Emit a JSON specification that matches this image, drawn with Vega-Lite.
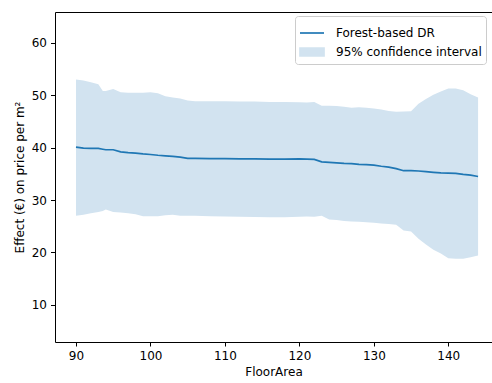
{
  "$schema": "https://vega.github.io/schema/vega-lite/v6.json",
  "width": 437,
  "height": 330,
  "autosize": {"type": "none"},
  "padding": {"left": 55, "top": 12, "right": 0, "bottom": 41},
  "background": "white",
  "config": {
    "font": "DejaVu Sans",
    "view": {"stroke": null},
    "axis": {
      "grid": false,
      "domainColor": "black",
      "domainWidth": 1,
      "tickColor": "black",
      "tickWidth": 1,
      "tickSize": 4,
      "labelFontSize": 12,
      "labelColor": "black",
      "labelFont": "DejaVu Sans",
      "titleFont": "DejaVu Sans",
      "titleFontSize": 12,
      "titleFontWeight": "normal",
      "titleColor": "black"
    },
    "legend": {
      "title": null,
      "orient": "none",
      "legendX": 240,
      "legendY": 4,
      "padding": 4,
      "fillColor": "white",
      "strokeColor": "#cccccc",
      "cornerRadius": 3,
      "labelFontSize": 12,
      "labelFont": "DejaVu Sans",
      "labelColor": "black",
      "labelOffset": 11,
      "symbolSize": 576,
      "rowPadding": 0
    }
  },
  "data": {
    "values": [
      {"FloorArea": 90, "effect": 40.1, "lower": 27.0, "upper": 53.0},
      {"FloorArea": 91, "effect": 39.9, "lower": 27.2, "upper": 52.8},
      {"FloorArea": 92, "effect": 39.86, "lower": 27.5, "upper": 52.5},
      {"FloorArea": 93, "effect": 39.86, "lower": 27.7, "upper": 52.1},
      {"FloorArea": 93.6, "effect": 39.7, "lower": 27.9, "upper": 50.8},
      {"FloorArea": 94, "effect": 39.6, "lower": 28.2, "upper": 50.8},
      {"FloorArea": 95, "effect": 39.6, "lower": 27.7, "upper": 51.2},
      {"FloorArea": 96, "effect": 39.2, "lower": 27.6, "upper": 50.6},
      {"FloorArea": 97, "effect": 39.05, "lower": 27.5, "upper": 50.5},
      {"FloorArea": 98, "effect": 38.95, "lower": 27.3, "upper": 50.5},
      {"FloorArea": 99, "effect": 38.8, "lower": 26.9, "upper": 50.5},
      {"FloorArea": 100, "effect": 38.7, "lower": 26.9, "upper": 50.6},
      {"FloorArea": 101, "effect": 38.55, "lower": 26.9, "upper": 50.4},
      {"FloorArea": 102, "effect": 38.45, "lower": 27.1, "upper": 49.8},
      {"FloorArea": 103, "effect": 38.35, "lower": 27.2, "upper": 49.6},
      {"FloorArea": 104, "effect": 38.2, "lower": 27.0, "upper": 49.4},
      {"FloorArea": 105, "effect": 37.96, "lower": 27.0, "upper": 49.0},
      {"FloorArea": 106, "effect": 37.95, "lower": 27.0, "upper": 48.85},
      {"FloorArea": 108, "effect": 37.92, "lower": 26.9, "upper": 48.85},
      {"FloorArea": 110, "effect": 37.9, "lower": 26.85, "upper": 48.85},
      {"FloorArea": 112, "effect": 37.87, "lower": 26.8, "upper": 48.8},
      {"FloorArea": 114, "effect": 37.85, "lower": 26.75, "upper": 48.8},
      {"FloorArea": 116, "effect": 37.83, "lower": 26.7, "upper": 48.72},
      {"FloorArea": 118, "effect": 37.83, "lower": 26.7, "upper": 48.72},
      {"FloorArea": 120, "effect": 37.85, "lower": 26.8, "upper": 48.65},
      {"FloorArea": 121, "effect": 37.8, "lower": 26.88, "upper": 48.6},
      {"FloorArea": 122, "effect": 37.75, "lower": 26.8, "upper": 48.7},
      {"FloorArea": 123, "effect": 37.3, "lower": 27.0, "upper": 48.0},
      {"FloorArea": 124, "effect": 37.2, "lower": 26.3, "upper": 48.0},
      {"FloorArea": 125, "effect": 37.1, "lower": 26.2, "upper": 47.95},
      {"FloorArea": 126, "effect": 37.0, "lower": 26.0, "upper": 47.8},
      {"FloorArea": 127, "effect": 36.95, "lower": 25.9, "upper": 47.6},
      {"FloorArea": 128, "effect": 36.8, "lower": 25.85, "upper": 47.7},
      {"FloorArea": 129, "effect": 36.75, "lower": 25.75, "upper": 47.6},
      {"FloorArea": 130, "effect": 36.65, "lower": 25.65, "upper": 47.5},
      {"FloorArea": 131, "effect": 36.45, "lower": 25.5, "upper": 47.3},
      {"FloorArea": 132, "effect": 36.3, "lower": 25.45, "upper": 47.0},
      {"FloorArea": 133, "effect": 36.0, "lower": 25.3, "upper": 46.85},
      {"FloorArea": 134, "effect": 35.6, "lower": 24.2, "upper": 46.9},
      {"FloorArea": 135, "effect": 35.6, "lower": 24.0, "upper": 46.93},
      {"FloorArea": 136, "effect": 35.55, "lower": 22.6, "upper": 48.4},
      {"FloorArea": 137, "effect": 35.42, "lower": 21.5, "upper": 49.3},
      {"FloorArea": 138, "effect": 35.3, "lower": 20.5, "upper": 50.1},
      {"FloorArea": 139, "effect": 35.2, "lower": 19.8, "upper": 50.7},
      {"FloorArea": 140, "effect": 35.15, "lower": 18.9, "upper": 51.3},
      {"FloorArea": 141, "effect": 35.1, "lower": 18.8, "upper": 51.3},
      {"FloorArea": 142, "effect": 34.9, "lower": 18.8, "upper": 50.95},
      {"FloorArea": 143, "effect": 34.75, "lower": 19.1, "upper": 50.2},
      {"FloorArea": 144, "effect": 34.5, "lower": 19.4, "upper": 49.6}
    ]
  },
  "resolve": {"axis": {"x": "independent"}},
  "layer": [
    {
      "mark": {"type": "area", "opacity": 1},
      "encoding": {
        "x": {
          "field": "FloorArea",
          "type": "quantitative",
          "scale": {"domain": [87.18, 145.87], "nice": false, "zero": false},
          "axis": {"values": [90, 100, 110, 120, 130, 140], "title": "FloorArea", "labelPadding": 4, "titlePadding": 5}
        },
        "y": {
          "field": "lower",
          "type": "quantitative",
          "scale": {"domain": [2.9, 65.9], "nice": false, "zero": false},
          "axis": {"values": [10, 20, 30, 40, 50, 60], "title": "Effect (€) on price per m²", "labelPadding": 4, "tickSize": 4.5, "titlePadding": 5}
        },
        "y2": {"field": "upper"},
        "color": {
          "datum": "95% confidence interval",
          "type": "nominal",
          "scale": {"domain": ["Forest-based DR", "95% confidence interval"], "range": ["#1f77b4", "#d2e3f0"]},
          "legend": {
            "encode": {
              "symbols": {
                "update": {
                  "shape": {"signal": "datum.label == 'Forest-based DR' ? 'M-1,0H1' : 'M-1,-0.32H1V0.32H-1Z'"},
                  "fill": {"signal": "datum.label == 'Forest-based DR' ? 'transparent' : '#d2e3f0'"},
                  "stroke": {"signal": "datum.label == 'Forest-based DR' ? '#1f77b4' : 'transparent'"},
                  "strokeWidth": {"value": 1.7},
                  "opacity": {"value": 1}
                }
              }
            }
          }
        }
      }
    },
    {
      "mark": {"type": "line", "strokeWidth": 1.7},
      "encoding": {
        "x": {
          "field": "FloorArea",
          "type": "quantitative",
          "axis": {"orient": "top", "labels": false, "ticks": false, "title": null, "domain": true}
        },
        "y": {"field": "effect", "type": "quantitative"},
        "color": {
          "datum": "Forest-based DR",
          "type": "nominal",
          "legend": {
            "encode": {
              "symbols": {
                "update": {
                  "shape": {"signal": "datum.label == 'Forest-based DR' ? 'M-1,0H1' : 'M-1,-0.32H1V0.32H-1Z'"},
                  "fill": {"signal": "datum.label == 'Forest-based DR' ? 'transparent' : '#d2e3f0'"},
                  "stroke": {"signal": "datum.label == 'Forest-based DR' ? '#1f77b4' : 'transparent'"},
                  "strokeWidth": {"value": 1.7},
                  "opacity": {"value": 1}
                }
              }
            }
          }
        }
      }
    }
  ]
}
